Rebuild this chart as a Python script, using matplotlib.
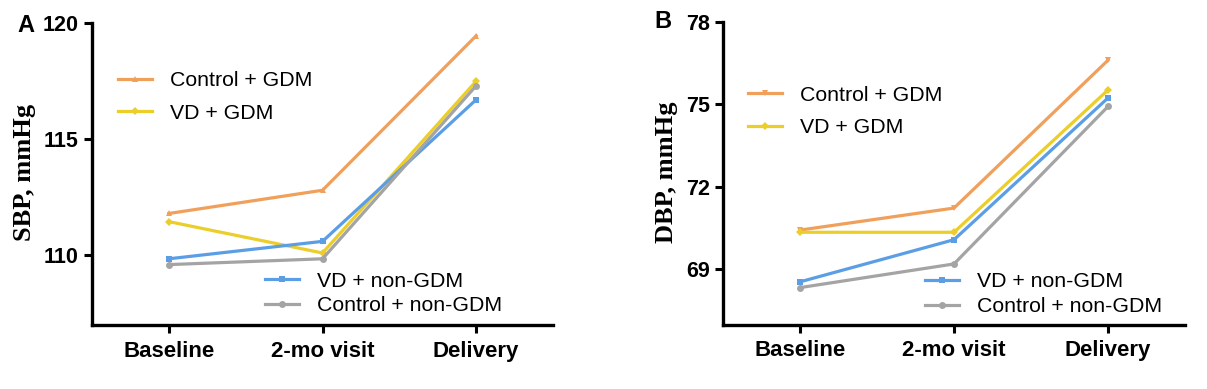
import matplotlib
matplotlib.use("Agg")
import matplotlib.pyplot as plt

# data
visits = ["Baseline", "2-mo visit", "Delivery"]
groups = ["Control + GDM", "VD + GDM", "VD + non-GDM", "Control + non-GDM"]

sbp_ctrl_gdm = [111.8, 112.8, 119.45]
sbp_vd_gdm = [111.45, 110.1, 117.5]
sbp_vd_non = [109.85, 110.6, 116.7]
sbp_ctrl_non = [109.6, 109.85, 117.3]

dbp_ctrl_gdm = [70.43, 71.23, 76.6]
dbp_vd_gdm = [70.35, 70.35, 75.52]
dbp_vd_non = [68.55, 70.08, 75.23]
dbp_ctrl_non = [68.34, 69.2, 74.92]

sbp_ticks = [110, 115, 120]
dbp_ticks = [69, 72, 75, 78]

colors = ["#F0A05A", "#ECCE2A", "#5B9EE6", "#A4A4A4"]

plt.rcParams['font.family'] = ['Liberation Sans', 'DejaVu Sans']

W, H = 1207, 389
fig = plt.figure(figsize=(W / 100, H / 100), dpi=100)


def fx(px):
    return px / W


def fy(py):
    return 1 - py / H


def panel(rect, series, markers, ylim, yticks, ylabel, letter, letter_xy,
          label_xy, leg1, leg2):
    ax = fig.add_axes(rect)
    x = range(len(visits))
    lines = []
    for vals, c, m in zip(series, colors, markers):
        ms = 4 if m == 'D' else 5
        ln, = ax.plot(x, vals, color=c, lw=2.3, marker=m, ms=ms,
                      markeredgewidth=0, solid_joinstyle='miter')
        lines.append(ln)
    ax.set_xlim(-0.5, 2.5)
    ax.set_ylim(*ylim)
    ax.set_xticks(list(x))
    ax.set_xticklabels(visits, fontsize=16, fontweight='bold')
    ax.set_yticks(yticks)
    ax.set_yticklabels([str(t) for t in yticks], fontsize=15.5, fontweight='bold')
    for s in ['top', 'right']:
        ax.spines[s].set_visible(False)
    for s in ['left', 'bottom']:
        ax.spines[s].set_linewidth(2.4)
    ax.tick_params(direction='out', length=5.5, width=2.2, pad=4)
    ax.tick_params(axis='x', pad=6)

    fig.text(fx(label_xy[0]), fy(label_xy[1]), ylabel, rotation=90,
             ha='center', va='center', fontsize=19, fontweight='bold',
             family='Liberation Serif')
    fig.text(fx(letter_xy[0]), fy(letter_xy[1]), letter, ha='center',
             va='center', fontsize=17, fontweight='bold')

    l1 = ax.legend(lines[:2], groups[:2], loc='center left',
                   bbox_to_anchor=(fx(leg1[0]), fy(leg1[1])),
                   bbox_transform=fig.transFigure, frameon=False,
                   fontsize=15.3, handlelength=1.6, handletextpad=0.85,
                   labelspacing=0.62, borderpad=0, borderaxespad=0)
    ax.add_artist(l1)
    ax.legend(lines[2:], groups[2:], loc='center left',
              bbox_to_anchor=(fx(leg2[0]), fy(leg2[1])),
              bbox_transform=fig.transFigure, frameon=False,
              fontsize=15.3, handlelength=1.6, handletextpad=0.85,
              labelspacing=0.28, borderpad=0, borderaxespad=0)
    return ax


panel([fx(92), fy(325), fx(553) - fx(92), fy(23) - fy(325)],
      [sbp_ctrl_gdm, sbp_vd_gdm, sbp_vd_non, sbp_ctrl_non],
      ['^', 'D', 's', 'o'], (107, 120), sbp_ticks, "SBP, mmHg",
      "A", (25.5, 25), (24, 172.5), (118, 97), (265, 293.5))

panel([fx(723), fy(324.5), fx(1185) - fx(723), fy(21.7) - fy(324.5)],
      [dbp_ctrl_gdm, dbp_vd_gdm, dbp_vd_non, dbp_ctrl_non],
      ['v', 'D', 's', 'o'], (67, 78), dbp_ticks, "DBP, mmHg",
      "B", (663, 21.7), (667, 172), (748, 111.5), (925, 294))

fig.savefig("out.png", dpi=100)
